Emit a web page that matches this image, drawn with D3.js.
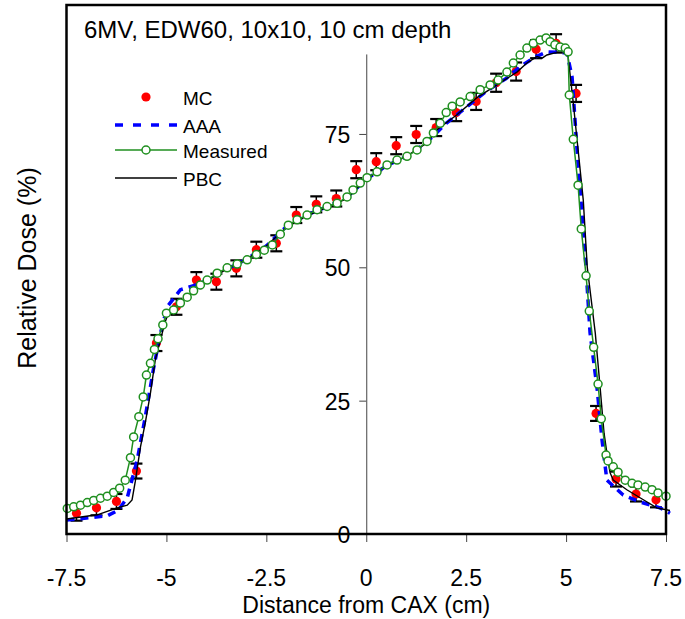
<!DOCTYPE html>
<html>
<head>
<meta charset="utf-8">
<script src="https://cdn.jsdelivr.net/npm/d3@7"></script>
<style>
  html, body { margin: 0; padding: 0; background: #fff; }
  svg { display: block; }
  text { font-family: "Liberation Sans", Arial, sans-serif; fill: #000; }
</style>
</head>
<body>
<svg id="chart" width="685" height="619"></svg>
<script>
// ---- Data ----
const titleText = "6MV, EDW60, 10x10, 10 cm depth";
const xLabel = "Distance from CAX (cm)";
const yLabel = "Relative Dose (%)";
const xTicks = [-7.5, -5, -2.5, 0, 2.5, 5, 7.5];
const xTickLabels = ["-7.5", "-5", "-2.5", "0", "2.5", "5", "7.5"];
const yTicks = [0, 25, 50, 75];
const yTickLabels = ["0", "25", "50", "75"];
const seriesNames = ["MC", "AAA", "Measured", "PBC"];

// MC (Monte Carlo) points with error bars
const mcX = [-7.25, -6.75, -6.25, -5.75, -5.25, -4.75, -4.25, -3.75, -3.25, -2.75,
             -2.25, -1.75, -1.25, -0.75, -0.25, 0.25, 0.75, 1.25, 1.75, 2.25,
             2.75, 3.25, 3.75, 4.25, 4.75, 5.25, 5.75, 6.25, 6.75, 7.25];
const mcDose = [3.9, 4.9, 6.1, 11.8, 35.8, 42.6, 47.6, 47.3, 49.8, 53.3,
                54.5, 59.8, 61.8, 62.9, 68.3, 69.8, 72.8, 74.9, 76.2, 79.0,
                81.1, 84.6, 86.7, 90.9, 92.0, 82.6, 22.6, 10.3, 7.5, 6.4];
const mcErr = [1.4, 1.4, 1.4, 1.4, 1.5, 1.5, 1.5, 1.5, 1.5, 1.5,
               1.5, 1.5, 1.5, 1.5, 1.6, 1.6, 1.6, 1.6, 1.6, 1.6,
               1.6, 1.7, 1.7, 1.7, 1.7, 1.6, 1.4, 1.4, 1.4, 1.4];

// AAA calculation
const aaaX = [-7.5, -7.0, -6.48, -6.2, -5.98, -5.73, -5.53, -5.33, -5.15, -4.98,
              -4.65, -4.3, -4.0, -3.5, -3.0, -2.5, -2.0, -1.5, -1.0, -0.5,
              0.0, 0.5, 1.0, 1.5, 2.0, 2.5, 3.0, 3.5, 3.85, 4.2,
              4.52, 5.02, 5.15, 5.28, 5.48, 5.6, 5.78, 5.9, 6.02, 6.43,
              6.85, 7.35, 7.6];
const aaaDose = [2.6, 3.0, 3.4, 4.5, 6.8, 13.9, 21.9, 30.7, 37.6, 42.6,
                 45.8, 46.6, 47.5, 49.6, 51.5, 54.0, 57.6, 59.8, 61.3, 63.0,
                 66.5, 69.0, 70.8, 73.3, 77.0, 80.0, 83.0, 85.4, 87.6, 89.3,
                 90.4, 90.2, 85.7, 71.4, 52.0, 37.7, 27.0, 17.6, 10.1, 7.3,
                 6.0, 4.9, 3.9];

// Measured profile
const measX = [-7.48, -7.32, -7.15, -6.98, -6.82, -6.65, -6.48, -6.32, -6.17, -6.03,
               -5.9, -5.82, -5.69, -5.58, -5.5, -5.4, -5.3, -5.21, -5.09, -5.0,
               -4.82, -4.65, -4.48, -4.32, -4.15, -3.98, -3.73, -3.48, -3.23, -2.98,
               -2.75, -2.55, -2.35, -2.15, -1.95, -1.73, -1.48, -1.23, -0.98, -0.73,
               -0.48, -0.33, -0.15, 0.02, 0.27, 0.52, 0.77, 1.02, 1.27, 1.52,
               1.68, 1.85, 2.0, 2.15, 2.35, 2.6, 2.85, 3.1, 3.3, 3.52,
               3.68, 3.85, 4.02, 4.18, 4.35, 4.5, 4.6, 4.72, 4.85, 4.98,
               5.05, 5.08, 5.18, 5.3, 5.38, 5.5, 5.58, 5.69, 5.8, 5.88,
               6.0, 6.05, 6.18, 6.3, 6.48, 6.65, 6.8, 6.98, 7.15, 7.3, 7.5];
const measDose = [4.8, 5.1, 5.4, 5.9, 6.3, 6.7, 7.1, 7.8, 8.6, 10.1,
                  14.3, 18.2, 22.0, 25.7, 29.8, 32.0, 34.6, 36.6, 39.2, 41.4,
                  42.0, 43.3, 44.4, 45.6, 46.7, 47.6, 48.9, 49.9, 50.6, 51.4,
                  52.4, 53.2, 54.2, 56.2, 57.9, 58.9, 59.8, 60.8, 61.4, 62.0,
                  63.2, 64.5, 65.8, 66.8, 67.9, 69.2, 70.1, 70.8, 72.0, 73.6,
                  75.2, 77.0, 79.0, 80.2, 81.0, 82.0, 83.3, 84.2, 85.1, 86.6,
                  88.3, 89.8, 91.1, 92.0, 92.6, 93.0, 92.3, 91.7, 91.3, 91.1,
                  90.4, 82.3, 74.0, 65.4, 57.2, 48.4, 41.8, 35.0, 28.1, 21.6,
                  14.8, 13.7, 12.6, 11.6, 10.1, 9.5, 9.2, 8.8, 8.3, 7.7, 7.1];

// PBC calculation
const pbcX = [-7.5, -6.73, -6.23, -5.98, -5.86, -5.78, -5.65, -5.53, -5.4, -5.28,
              -5.15, -5.03, -4.95, -4.8, -4.5, -4.0, -3.5, -3.0, -2.5, -2.0,
              -1.5, -1.0, -0.5, 0.0, 0.5, 1.0, 1.5, 1.77, 2.27, 2.77,
              3.27, 3.77, 4.02, 4.27, 4.4, 4.52, 4.72, 4.98, 5.05, 5.18,
              5.43, 5.53, 5.73, 5.85, 5.95, 6.02, 6.1, 6.18, 6.52, 6.85, 7.27, 7.6];
const pbcDose = [2.8, 3.6, 4.9, 5.4, 6.4, 9.8, 16.3, 20.8, 26.4, 32.6,
                 36.4, 39.8, 41.4, 42.2, 44.3, 47.4, 49.6, 51.5, 54.0, 57.5,
                 59.6, 61.2, 62.8, 66.5, 69.0, 70.8, 73.2, 75.8, 78.6, 81.8,
                 84.2, 86.6, 88.3, 89.5, 89.2, 89.8, 90.2, 90.2, 89.5, 80.8,
                 62.6, 50.0, 37.7, 27.6, 18.9, 15.2, 11.5, 10.1, 8.3, 6.8, 4.9, 4.4];

// ---- Drawing ----
const svg = d3.select("#chart");
const plot = { left: 66.5, right: 666, top: 5, bottom: 534 };

const x = d3.scaleLinear().domain([-7.5, 7.5]).range([plot.left, plot.right]);
const y = d3.scaleLinear().domain([0, 90]).range([plot.bottom, plot.bottom - 90 * (400.7 - 134) / 50]);

const GREEN = "#1f8f1f";

function addText(parent, tx, ty, str, size, anchor, baseline) {
  return parent.append("text")
    .attr("x", tx).attr("y", ty)
    .attr("text-anchor", anchor || "start")
    .attr("dominant-baseline", baseline || "alphabetic")
    .style("font-size", size + "px")
    .text(str);
}

// x axis (ticks below frame)
const xAxis = d3.axisBottom(x).tickValues(xTicks).tickSize(8).tickSizeOuter(0).tickFormat(() => "");
const gx = svg.append("g").attr("transform", `translate(0,${plot.bottom})`).call(xAxis);
gx.select(".domain").remove();
gx.selectAll(".tick line").attr("stroke", "#444").attr("stroke-width", 1);
xTicks.forEach((v, i) => addText(svg, x(v), 586, xTickLabels[i], 23, "middle"));

// y axis at x = 0
const yAxis = d3.axisLeft(y).tickValues(yTicks).tickSize(7).tickSizeOuter(0).tickFormat(() => "");
const gy = svg.append("g").attr("transform", `translate(${x(0)},0)`).call(yAxis);
gy.select(".domain").attr("stroke", "#444").attr("stroke-width", 1);
gy.selectAll(".tick line").attr("stroke", "#444").attr("stroke-width", 1);
yTicks.forEach((v, i) => addText(svg, x(0) - 16, y(v) + 1, yTickLabels[i], 23, "end", "central"));

// MC error bars and points
const mc = mcX.map((v, i) => ({ x: v, d: mcDose[i], e: mcErr[i] }));
const gmc = svg.append("g");
const capW = 6;
mc.forEach(p => {
  const cx = x(p.x), y1 = y(p.d + p.e), y2 = y(p.d - p.e);
  gmc.append("line").attr("x1", cx).attr("x2", cx).attr("y1", y1).attr("y2", y2)
    .attr("stroke", "#000").attr("stroke-width", 1.5);
  [y1, y2].forEach(yy => gmc.append("line").attr("x1", cx - capW).attr("x2", cx + capW)
    .attr("y1", yy).attr("y2", yy).attr("stroke", "#000").attr("stroke-width", 2.2));
});
gmc.selectAll("circle").data(mc).join("circle")
  .attr("cx", d => x(d.x)).attr("cy", d => y(d.d)).attr("r", 4.6).attr("fill", "#ff0000");

const line = d3.line().x(d => x(d[0])).y(d => y(d[1]));

// AAA
svg.append("path").datum(aaaX.map((v, i) => [v, aaaDose[i]]))
  .attr("d", line).attr("fill", "none").attr("stroke", "#0000ff")
  .attr("stroke-width", 3.5).attr("stroke-dasharray", "8,6");

// PBC
svg.append("path").datum(pbcX.map((v, i) => [v, pbcDose[i]]))
  .attr("d", line).attr("fill", "none").attr("stroke", "#000").attr("stroke-width", 1.4);

// Measured
const meas = measX.map((v, i) => [v, measDose[i]]);
svg.append("path").datum(meas).attr("d", line).attr("fill", "none")
  .attr("stroke", GREEN).attr("stroke-width", 1.5);
svg.append("g").selectAll("circle").data(meas).join("circle")
  .attr("cx", d => x(d[0])).attr("cy", d => y(d[1])).attr("r", 4)
  .attr("fill", "#fff").attr("stroke", GREEN).attr("stroke-width", 1.5);

// Frame
svg.append("rect").attr("x", plot.left).attr("y", plot.top)
  .attr("width", plot.right - plot.left).attr("height", plot.bottom - plot.top)
  .attr("fill", "none").attr("stroke", "#000").attr("stroke-width", 2.5);

// Title
addText(svg, 84, 38, titleText, 24, "start");

// Axis titles
addText(svg, x(0), 613, xLabel, 23, "middle");
svg.append("text").attr("transform", "translate(27,268) rotate(-90)")
  .attr("text-anchor", "middle").attr("dominant-baseline", "central")
  .style("font-size", "25px").text(yLabel);

// Legend
const lg = svg.append("g");
const legY = [97, 125, 150, 178];
const lx1 = 115, lx2 = 177, lmid = 146, ltx = 183;
lg.append("circle").attr("cx", lmid).attr("cy", legY[0]).attr("r", 4.6).attr("fill", "#ff0000");
lg.append("line").attr("x1", lx1).attr("x2", lx2).attr("y1", legY[1]).attr("y2", legY[1])
  .attr("stroke", "#0000ff").attr("stroke-width", 3.5).attr("stroke-dasharray", "8,10");
lg.append("line").attr("x1", lx1).attr("x2", lx2).attr("y1", legY[2]).attr("y2", legY[2])
  .attr("stroke", GREEN).attr("stroke-width", 1.5);
lg.append("circle").attr("cx", lmid).attr("cy", legY[2]).attr("r", 4)
  .attr("fill", "#fff").attr("stroke", GREEN).attr("stroke-width", 1.5);
lg.append("line").attr("x1", lx1).attr("x2", lx2).attr("y1", legY[3]).attr("y2", legY[3])
  .attr("stroke", "#000").attr("stroke-width", 1.6);
seriesNames.forEach((n, i) => addText(lg, ltx, legY[i] + 1, n, 19, "start", "central"));
</script>
</body>
</html>
